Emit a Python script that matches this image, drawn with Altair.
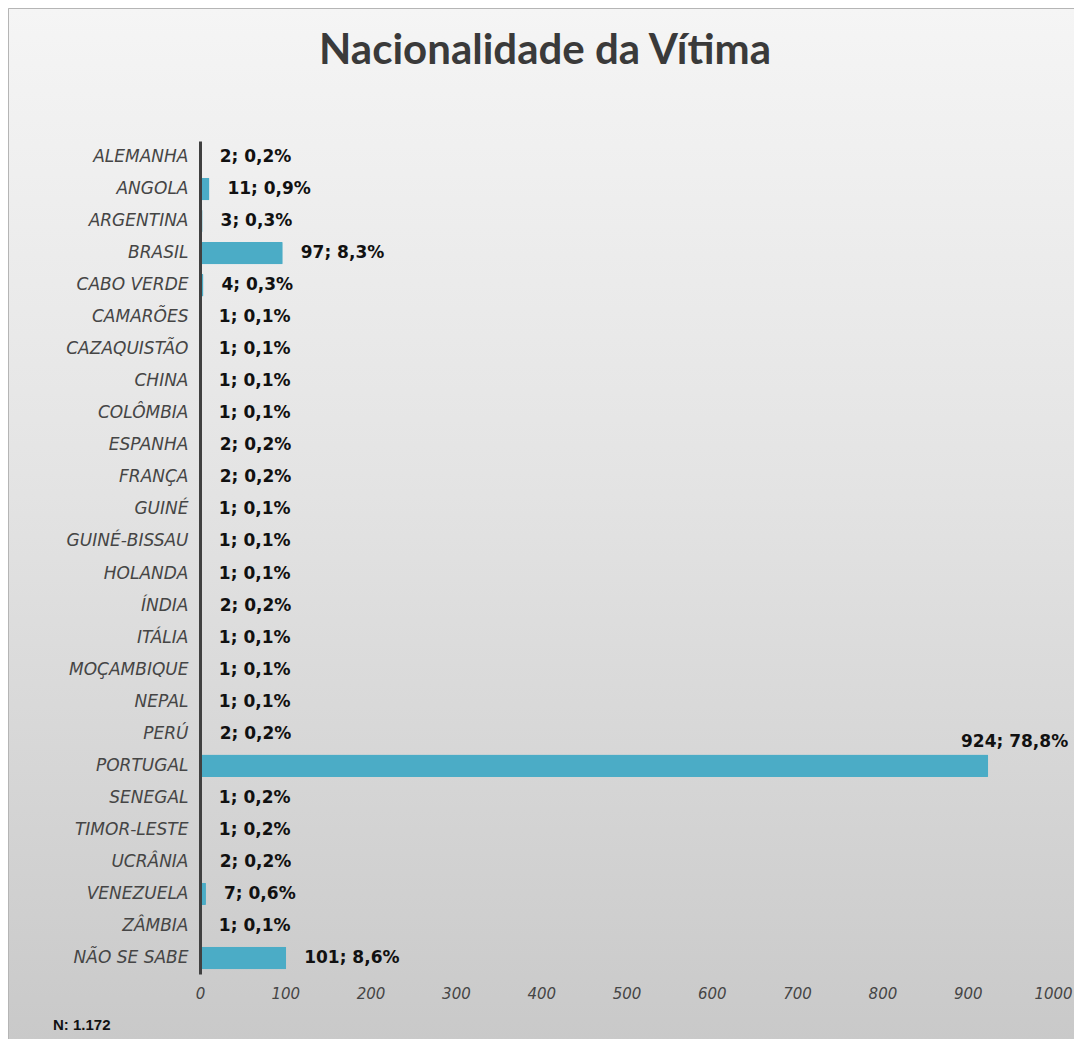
import altair as alt
import pandas as pd

categories = ["ALEMANHA", "ANGOLA", "ARGENTINA", "BRASIL", "CABO VERDE", "CAMARÕES",
              "CAZAQUISTÃO", "CHINA", "COLÔMBIA", "ESPANHA", "FRANÇA", "GUINÉ",
              "GUINÉ-BISSAU", "HOLANDA", "ÍNDIA", "ITÁLIA", "MOÇAMBIQUE", "NEPAL",
              "PERÚ", "PORTUGAL", "SENEGAL", "TIMOR-LESTE", "UCRÂNIA", "VENEZUELA",
              "ZÂMBIA", "NÃO SE SABE"]
values = [2, 11, 3, 97, 4, 1, 1, 1, 1, 2, 2, 1, 1, 1, 2, 1, 1, 1, 2, 924, 1, 1, 2, 7, 1, 101]
percents = ["0,2%", "0,9%", "0,3%", "8,3%", "0,3%", "0,1%", "0,1%", "0,1%", "0,1%", "0,2%",
            "0,2%", "0,1%", "0,1%", "0,1%", "0,2%", "0,1%", "0,1%", "0,1%", "0,2%", "78,8%",
            "0,2%", "0,2%", "0,2%", "0,6%", "0,1%", "8,6%"]
x_ticks = [0, 100, 200, 300, 400, 500, 600, 700, 800, 900, 1000]
title_text = "Nacionalidade da Vítima"
note_text = "N: 1.172"

df = pd.DataFrame({
    "cat": categories,
    "val": values,
    "label": [f"{v}; {p}" for v, p in zip(values, percents)],
})

W, H = 853, 833
PL, PT, PR, PB = 192, 133, 21, 65

x_scale = alt.Scale(domain=[0, 1000], nice=False)
y_enc = alt.Y("cat:N", sort=categories, scale=alt.Scale(paddingInner=0.3, paddingOuter=0.15),
              axis=alt.Axis(title=None, ticks=False, domain=True, domainColor="#404040",
                            domainWidth=3, labelFont="DejaVu Sans", labelFontStyle="italic",
                            labelFontSize=17, labelColor="#454545", labelPadding=12,
                            zindex=1))
x_enc = alt.X("val:Q", scale=x_scale,
              axis=alt.Axis(title=None, values=x_ticks, format="d", grid=False, ticks=False,
                            domain=False, labelFlush=False, labelFont="DejaVu Sans",
                            labelFontStyle="italic", labelFontSize=15, labelColor="#454545",
                            labelPadding=12, zindex=1))

bg = alt.Chart(pd.DataFrame({"a": [0]})).mark_rect(
    color=alt.LinearGradient(gradient="linear",
                             stops=[alt.GradientStop(color="#f5f5f5", offset=0),
                                    alt.GradientStop(color="#e4e4e4", offset=0.45),
                                    alt.GradientStop(color="#c9c9c9", offset=1)],
                             x1=0.5, x2=0.5, y1=0, y2=1),
    stroke="#b5b5b5", strokeWidth=1
).encode(x=alt.value(-PL + 0.5), x2=alt.value(W + PR + 2), y=alt.value(-PT + 0.5),
         y2=alt.value(H + PB + 2))

bars = alt.Chart(df).mark_bar(color="#4bacc6", cornerRadius=1).encode(x=x_enc, y=y_enc)

labels = alt.Chart(df).transform_filter(alt.datum.cat != "PORTUGAL").mark_text(
    align="left", baseline="middle", dx=18, font="DejaVu Sans", fontWeight="bold",
    fontSize=17, color="#111111"
).encode(x=alt.X("val:Q", scale=x_scale), y=alt.Y("cat:N", sort=categories), text="label:N")

big_label = alt.Chart(df).transform_filter(alt.datum.cat == "PORTUGAL").mark_text(
    align="right", baseline="middle", dx=80, dy=-24, font="DejaVu Sans", fontWeight="bold",
    fontSize=17, color="#111111"
).encode(x=alt.X("val:Q", scale=x_scale), y=alt.Y("cat:N", sort=categories), text="label:N")

note = alt.Chart(pd.DataFrame({"t": [note_text]})).mark_text(
    align="left", baseline="middle", font="Liberation Sans", fontWeight="bold",
    fontSize=15, color="#111111"
).encode(x=alt.value(-PL + 45), y=alt.value(H + 51), text="t:N")

title = alt.Chart(pd.DataFrame({"t": [title_text]})).mark_text(
    align="center", baseline="middle", font="Lato", fontWeight="bold",
    fontSize=42, color="#3a3a3a"
).encode(x=alt.value(345), y=alt.value(-90), text="t:N")

chart = alt.layer(bg, bars, labels, big_label, note, title).properties(
    width=W, height=H,
    autosize=alt.AutoSizeParams(type="none"),
    padding={"left": PL, "top": PT, "right": PR, "bottom": PB},
    background="#d8d8d8",
).configure_view(stroke=None)

chart.save("out.html", embed_options={"renderer": "svg", "actions": False})
